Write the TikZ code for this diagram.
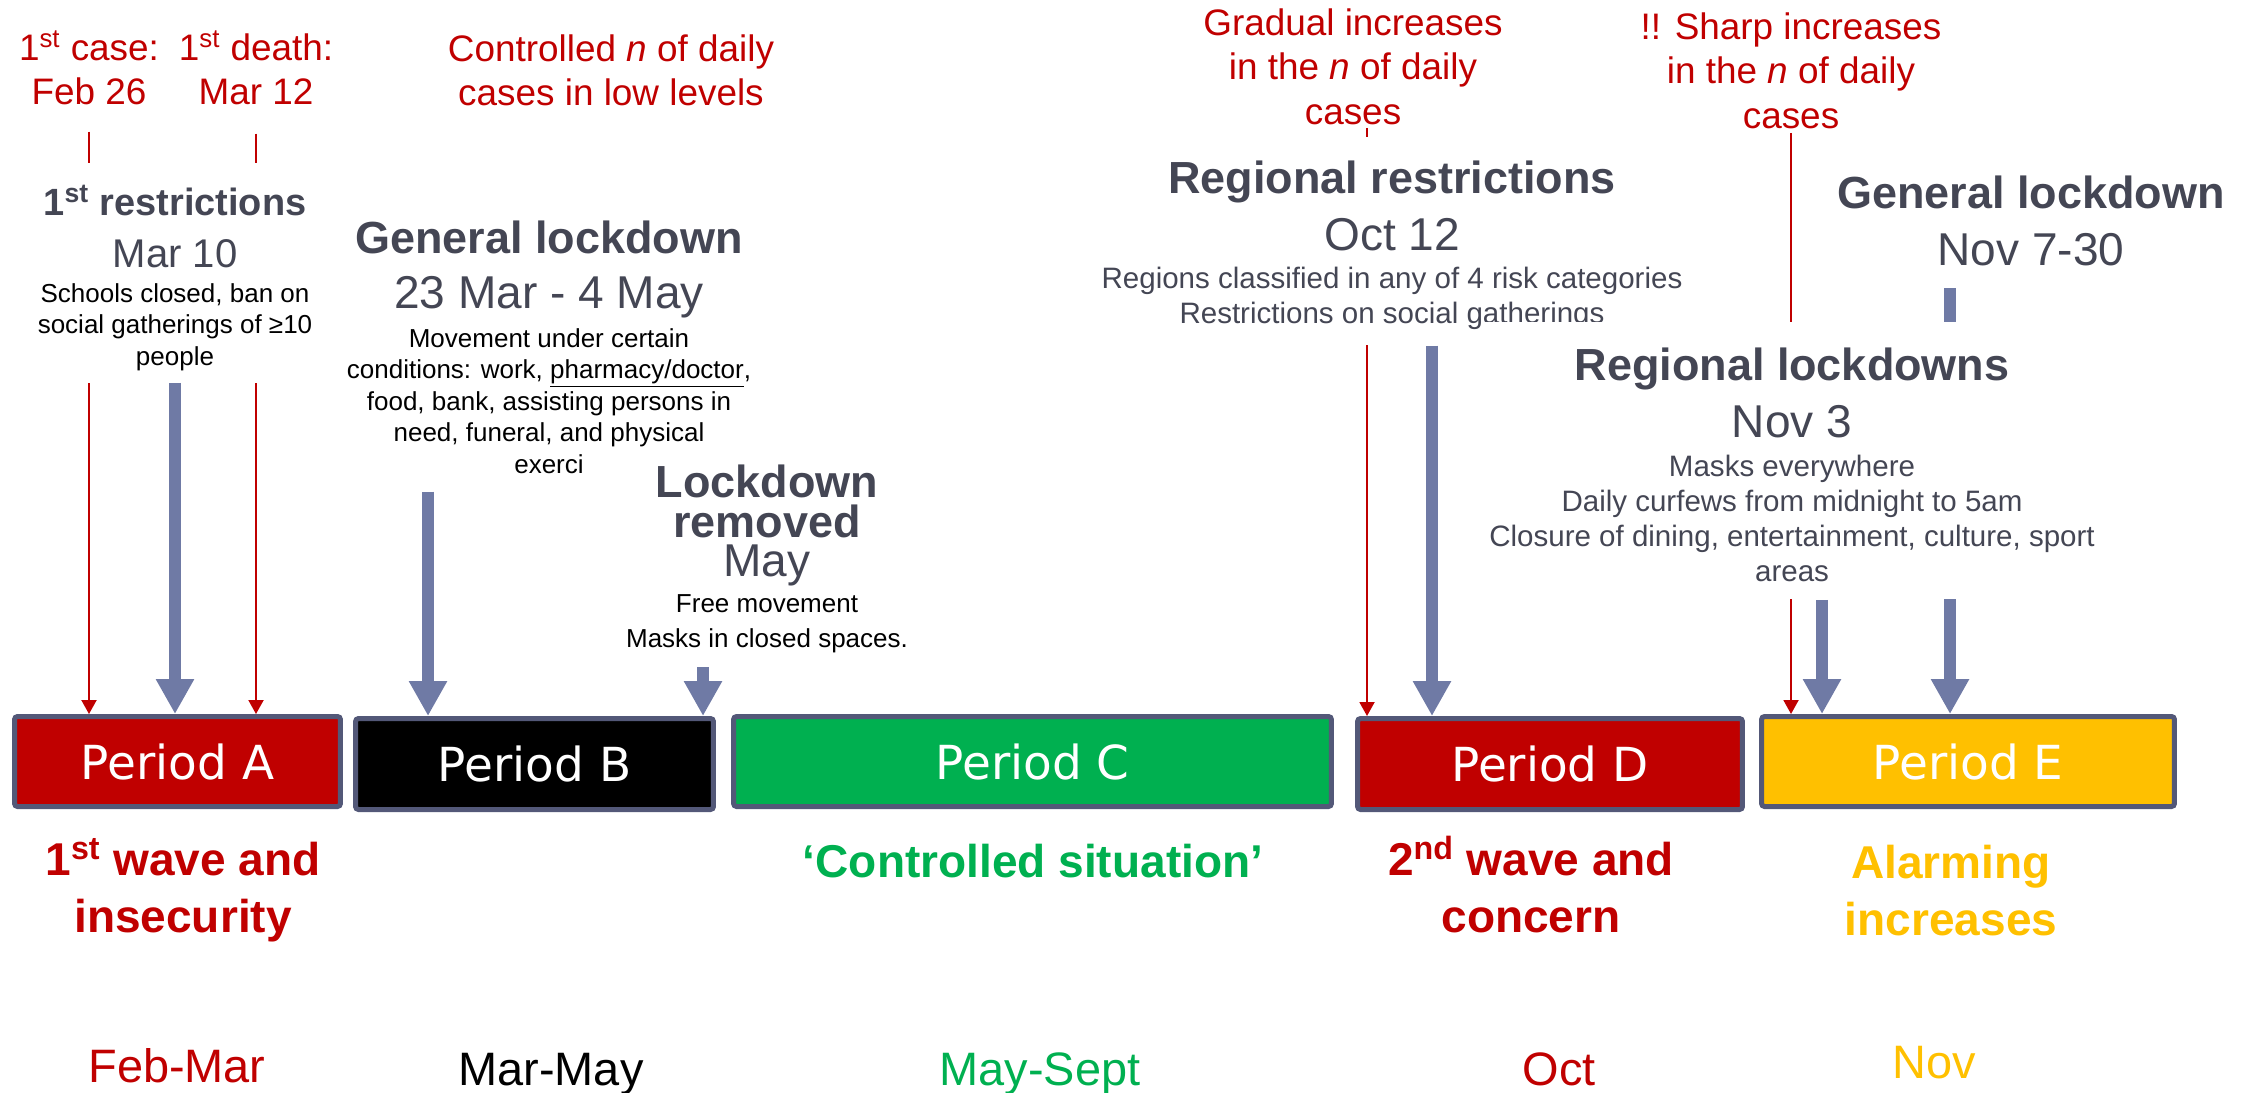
\documentclass[tikz,border=0pt]{standalone}
\usepackage{fontspec}
\setmainfont{Liberation Sans}
\newfontfamily\boxfamily{DejaVu Sans}
\usetikzlibrary{arrows.meta,positioning}

\definecolor{darkred}{RGB}{192,0,0}
\definecolor{periodgreen}{RGB}{0,176,80}
\definecolor{periodyellow}{RGB}{255,192,0}
\definecolor{slategrey}{RGB}{68,70,84}
\definecolor{arrowblue}{RGB}{111,122,165}
\definecolor{boxline}{RGB}{83,88,120}

\newcommand\redsize{\fontsize{21}{25.3}\selectfont\lineskiplimit=-\maxdimen}
\newcommand\headsize{\fontsize{25.6}{30}\selectfont\bfseries}
\newcommand\datesize{\fontsize{26.2}{30}\selectfont}
\newcommand\leftdesc{\fontsize{14.8}{17.9}\selectfont\lineskiplimit=-\maxdimen}
\newcommand\rightdesc{\fontsize{16.8}{19.9}\selectfont\lineskiplimit=-\maxdimen}
\newcommand\labelsize{\fontsize{26.2}{32.4}\selectfont\bfseries\lineskiplimit=-\maxdimen}
\newcommand\monthsize{\fontsize{26.7}{32}\selectfont}
\newcommand\firststrut{\rule{0pt}{0.8cm}}

\begin{document}
\begin{tikzpicture}[x=0.02cm, y=-0.02cm,
  period/.style={draw=boxline, line width=0.1cm, rounded corners=0.06cm, minimum height=1.8cm, text=white, font=\boxfamily\fontsize{26.7}{32}\selectfont},
  event/.style={align=center, anchor=north, fill=white, inner xsep=0.1cm, inner ysep=0.1cm},
  redtext/.style={align=center, anchor=north, inner sep=0pt, text=darkred, font=\redsize},
  wavetext/.style={align=center, anchor=north, inner sep=0pt, font=\labelsize},
  month/.style={anchor=base, inner sep=0pt, font=\monthsize},
  redarrow/.style={darkred, line width=0.04cm, -{Triangle[width=0.3cm,length=0.28cm]}},
  bluearrow/.style={arrowblue, line width=0.24cm, -{Triangle[width=0.72cm,length=0.7cm]}}]
\useasboundingbox (0,0) rectangle (2243,1092);

\node[period, fill=darkred, minimum width=6.52cm] (pA) at (177.5,761.5) {Period A};
\node[period, fill=black, minimum width=7.16cm, minimum height=1.82cm] (pB) at (534.5,764) {Period B};
\node[period, fill=periodgreen, minimum width=11.96cm] (pC) at (1032.5,761.5) {Period C};
\node[period, fill=darkred, minimum width=7.7cm, minimum height=1.82cm] (pD) at (1550,764) {Period D};
\node[period, fill=periodyellow, minimum width=8.26cm] (pE) at (1968,761.5) {Period E};

\node[redtext] (caseA) at (89,20) {\firststrut 1\textsuperscript{st} case:\\ Feb 26};
\node[redtext] (deathA) at (256,20) {\firststrut 1\textsuperscript{st} death:\\ Mar 12};
\node[redtext] (ctrlB) at (611,21) {\firststrut Controlled \textit{n} of daily\\ cases in low levels};
\node[redtext] (gradD) at (1353,-5) {\firststrut Gradual increases\\ in the \textit{n} of daily\\ cases};
\node[redtext] (sharpE) at (1791,-1) {\firststrut !! Sharp increases\\ in the \textit{n} of daily\\ cases};

\draw[redarrow, shorten <=0.52cm] (caseA.south) -- (caseA.south |- pA.north);
\draw[redarrow, shorten <=0.56cm] (deathA.south) -- (deathA.south |- pA.north);
\draw[redarrow, shorten <=0.06cm] ([xshift=0.28cm]gradD.south) -- ([xshift=0.28cm]gradD.south |- pD.north);
\draw[redarrow, shorten <=0.08cm] (sharpE.south) -- (sharpE.south |- pE.north);

\node[event, inner ysep=0.24cm, font=\leftdesc] (restrA) at (175,163) {\firststrut{\color{slategrey}\fontsize{21.6}{26}\selectfont\bfseries 1\textsuperscript{st} restrictions}\\[11.7pt] {\color{slategrey}\fontsize{22.8}{27}\selectfont Mar 10}\\[2pt] Schools closed, ban on\\ social gatherings of ≥10\\ people};
\node[event, font=\leftdesc] (lockdownB) at (549,208) {\firststrut{\color{slategrey}\headsize General lockdown}\\[13.4pt] {\color{slategrey}\datesize 23 Mar - 4 May}\\[4.3pt] Movement under certain\\ conditions: work, \underline{pharmacy/doctor},\\ food, bank, assisting persons in\\ need, funeral, and physical\\ exerci};
\node[event, font=\leftdesc] (reopenB) at (767,452) {\firststrut{\color{slategrey}\headsize Lockdown}\\[4.8pt] {\color{slategrey}\headsize removed}\\[4.3pt] {\color{slategrey}\datesize May}\\[2.6pt] Free movement\\[2pt] Masks in closed spaces.};
\node[event, inner ysep=0.32cm, font=\rightdesc, text=slategrey] (regionD) at (1392,137) {\firststrut{\headsize Regional restrictions}\\[12.5pt] {\datesize Oct 12}\\[1.7pt] Regions classified in any of 4 risk categories\\ Restrictions on social gatherings};
\node[event, font=\rightdesc, text=slategrey] (generalE) at (2031,163) {\firststrut{\headsize General lockdown}\\[12.5pt] {\datesize Nov 7-30}};

\draw[bluearrow] (restrA.south) -- (restrA.south |- pA.north);
\draw[bluearrow, shorten <=0.26cm] ([xshift=-2.42cm]lockdownB.south) -- ([xshift=-2.42cm]lockdownB.south |- pB.north);
\draw[bluearrow, shorten <=0.19cm] ([xshift=-1.28cm]reopenB.south) -- ([xshift=-1.28cm]reopenB.south |- pB.north);
\draw[bluearrow] ([xshift=0.8cm]regionD.south) -- ([xshift=0.8cm]regionD.south |- pD.north);
\draw[bluearrow, shorten <=0.34cm] ([xshift=-1.62cm]generalE.south) -- ([xshift=-1.62cm]generalE.south |- pE.north);

\node[event, inner ysep=0.36cm, font=\rightdesc, text=slategrey] (regionE) at (1792,322) {\firststrut{\headsize Regional lockdowns}\\[12.5pt] {\datesize Nov 3}\\[2.3pt] Masks everywhere\\ Daily curfews from midnight to 5am\\ Closure of dining, entertainment, culture, sport\\ areas};
\draw[bluearrow] ([xshift=0.6cm]regionE.south) -- ([xshift=0.6cm]regionE.south |- pE.north);

\node[wavetext, text=darkred] (waveA) at (183,835) {\firststrut 1\textsuperscript{st} wave and\\ insecurity};
\node[anchor=base, inner sep=0pt, font=\labelsize, text=periodgreen] (calmC) at (1033,877) {‘Controlled situation’};
\node[wavetext, text=darkred] (waveD) at (1531,835) {\firststrut 2\textsuperscript{nd} wave and\\ concern};
\node[wavetext, text=periodyellow] (alarmE) at (1951,838) {\firststrut Alarming\\ increases};

\node[month, text=darkred] (monthA) at (177,1082) {Feb-Mar};
\node[month, text=black] (monthB) at (551,1085) {Mar-May};
\node[month, text=periodgreen] (monthC) at (1040,1085) {May-Sept};
\node[month, text=darkred] (monthD) at (1559,1085) {Oct};
\node[month, text=periodyellow] (monthE) at (1934,1078) {Nov};
\end{tikzpicture}
\end{document}
